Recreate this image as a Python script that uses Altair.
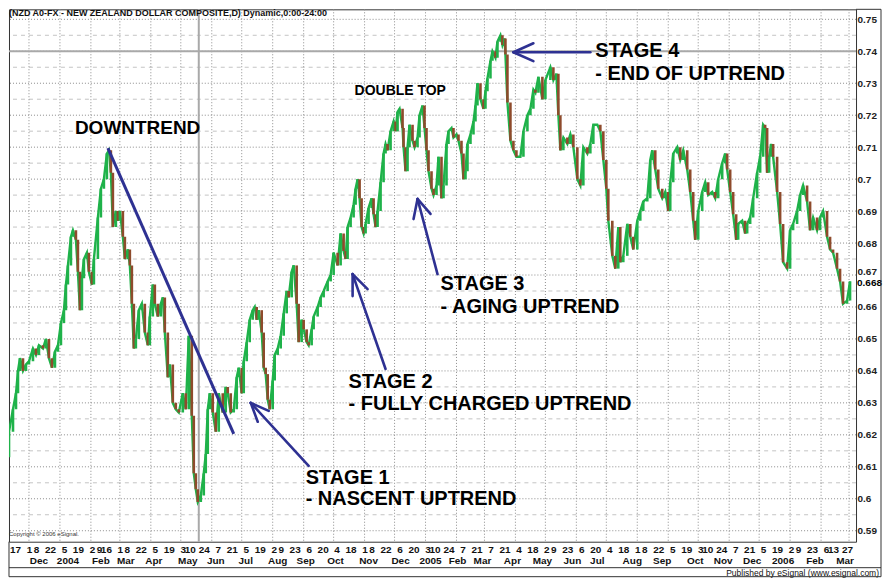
import altair as alt
import pandas as pd

W, H = 848, 533

# ---------------- price data (days since 2003-11-03, close) ----------------
days_a = [6, 8, 12, 15, 17, 19, 22, 25, 28, 32, 35, 38, 42, 45, 48, 51, 54, 57, 60, 63,
          65, 67, 70, 72, 75, 77, 79, 81, 83, 86, 88, 91, 93, 97, 100, 103, 106, 108, 110, 112,
          115, 117, 119, 122, 124, 127, 129, 131, 133, 135, 138, 141, 144, 147, 149, 152, 154, 157, 160, 162,
          164, 167, 169, 172]
close_a = [.613, .621, .628, .633, .640, .644, .640, .642, .643, .647, .645, .648, .647, .650, .644, .641, .646, .648, .655, .659,
           .667, .673, .682, .684, .681, .671, .659, .669, .675, .677, .671, .667, .675, .688, .697, .700, .708, .709, .702, .685,
           .690, .687, .690, .682, .675, .678, .673, .661, .647, .650, .659, .661, .652, .648, .657, .667, .661, .657, .661, .663,
           .652, .638, .642, .630]

days_b = [175, 178, 182, 185, 188, 191, 193, 195, 197, 200, 203, 205, 207, 209, 212, 215, 218, 222, 225, 227,
          230, 233, 236, 238, 241, 243, 246, 249, 252, 254, 256, 258, 261, 263, 265, 267, 269, 272, 274, 277,
          280, 283, 286, 288, 291, 293, 296, 298, 301, 303, 306, 308, 311, 313, 317, 320, 323, 327, 330, 333,
          337, 340]
close_b = [.628, .627, .633, .628, .651, .626, .608, .603, .599, .601, .608, .614, .628, .633, .627, .621, .633, .627, .635, .633,
           .627, .628, .638, .641, .633, .643, .649, .656, .659, .660, .656, .659, .652, .641, .639, .631, .628, .637, .645, .647,
           .651, .658, .665, .663, .671, .673, .661, .649, .656, .653, .649, .648, .653, .657, .660, .663, .665, .668, .670, .677,
           .673, .683]

days_c = [343, 345, 347, 350, 353, 355, 357, 359, 361, 363, 365, 368, 371, 373, 375, 377, 380, 383, 385, 387,
          390, 393, 395, 397, 399, 402, 403, 405, 407, 409, 412, 414, 417, 419, 422, 424, 426, 428, 431, 433,
          436, 438, 441, 443, 446, 448, 451, 453, 456, 458, 461, 463, 465, 467, 470, 473, 475, 477, 480, 483,
          485, 487]
close_c = [.6775, .675, .685, .688, .692, .697, .700, .694, .685, .683, .686, .691, .694, .689, .685, .690, .699, .708, .711, .709,
           .715, .718, .715, .721, .722, .716, .710, .7025, .710, .717, .712, .710, .713, .720, .723, .716, .709, .7025, .697, .695,
           .698, .707, .694, .698, .711, .715, .716, .713, .714, .712, .708, .700, .7025, .711, .714, .718, .723, .730, .725, .722,
           .7275, .7315]

days_d = [490, 492, 495, 497, 500, 502, 504, 505, 507, 510, 513, 516, 520, 523, 527, 530, 533, 535, 538, 542,
          545, 550, 553, 556, 558, 560, 563, 567, 570, 573, 577, 580, 583, 587, 590, 593, 597, 600, 603, 606,
          608, 612, 615, 618, 620, 623, 627, 630, 633, 637, 640, 643, 647, 650, 652, 655, 658, 662, 665, 668,
          670, 673, 677, 680, 683]
close_d = [.737, .740, .738, .743, .745, .742, .744, .739, .724, .712, .709, .707, .707, .715, .720, .722, .728, .727, .732, .725,
           .731, .735, .731, .733, .720, .709, .713, .711, .714, .710, .700, .698, .710, .708, .711, .717, .717, .715, .706, .697,
           .687, .676, .672, .685, .674, .676, .686, .682, .678, .687, .690, .693, .694, .706, .709, .703, .697, .694, .696, .690,
           .699, .708, .710, .706, .709]

days_e = [687, 690, 693, 695, 698, 702, 705, 708, 712, 715, 718, 722, 725, 727, 730, 733, 736, 738, 742, 745,
          747, 750, 753, 757, 760, 763, 765, 767, 769, 771, 773, 777, 780, 783, 787, 790, 793, 797, 800, 803,
          807, 810, 813, 817, 820, 823, 827, 830, 833, 837, 840, 843, 847, 850]
close_e = [.703, .696, .687, .681, .690, .696, .699, .695, .696, .694, .700, .705, .708, .703, .696, .689, .681, .686, .687, .683,
           .686, .688, .694, .702, .707, .717, .716, .702, .707, .711, .707, .696, .686, .674, .672, .684, .686, .690, .695, .698,
           .693, .684, .688, .684, .688, .690, .682, .678, .677, .672, .668, .661, .662, .668]

# ---------------- axis / grid data ----------------
day_ticks = ["2003-11-17", "2003-12-01", "2003-12-08", "2003-12-22", "2004-01-05", "2004-01-19", "2004-02-02",
             "2004-02-09", "2004-02-16", "2004-03-01", "2004-03-08", "2004-03-22", "2004-04-05", "2004-04-19",
             "2004-05-03", "2004-05-10", "2004-05-24", "2004-06-07", "2004-06-21", "2004-07-05", "2004-07-19",
             "2004-08-02", "2004-08-09", "2004-08-23", "2004-09-06", "2004-09-20", "2004-10-04", "2004-10-18",
             "2004-11-01", "2004-11-08", "2004-11-22", "2004-12-06", "2004-12-20", "2005-01-03", "2005-01-10",
             "2005-01-24", "2005-02-07", "2005-02-21", "2005-03-07", "2005-03-21", "2005-04-04", "2005-04-18",
             "2005-05-02", "2005-05-09", "2005-05-23", "2005-06-06", "2005-06-20", "2005-07-04", "2005-07-18",
             "2005-08-01", "2005-08-08", "2005-08-22", "2005-09-05", "2005-09-19", "2005-10-03", "2005-10-10",
             "2005-10-24", "2005-11-07", "2005-11-21", "2005-12-05", "2005-12-19", "2006-01-02", "2006-01-09",
             "2006-01-23", "2006-02-06", "2006-02-13", "2006-02-27"]

month_labels = ["Dec", "2004", "Feb", "Mar", "Apr", "May", "Jun", "Jul", "Aug", "Sep", "Oct", "Nov", "Dec", "2005",
                "Feb", "Mar", "Apr", "May", "Jun", "Jul", "Aug", "Sep", "Oct", "Nov", "Dec", "2006", "Feb", "Mar"]
month_label_dates = ["2003-12-11", "2004-01-09", "2004-02-11", "2004-03-07", "2004-04-04", "2004-05-08", "2004-06-05",
                     "2004-07-05", "2004-08-06", "2004-09-03", "2004-10-03", "2004-11-05", "2004-12-07", "2005-01-06",
                     "2005-02-02", "2005-02-27", "2005-03-29", "2005-04-28", "2005-05-28", "2005-06-22", "2005-07-27",
                     "2005-08-26", "2005-09-28", "2005-10-26", "2005-11-24", "2005-12-25", "2006-01-26", "2006-02-25"]

month_starts = ["2003-12-01", "2004-01-01", "2004-02-01", "2004-03-01", "2004-04-01", "2004-05-01", "2004-06-01",
                "2004-07-01", "2004-08-01", "2004-09-01", "2004-10-01", "2004-11-01", "2004-12-01", "2005-01-01",
                "2005-02-01", "2005-03-01", "2005-04-01", "2005-05-01", "2005-06-01", "2005-07-01", "2005-08-01",
                "2005-09-01", "2005-10-01", "2005-11-01", "2005-12-01", "2006-01-01", "2006-02-01", "2006-03-01"]

y_ticks = [0.59, 0.60, 0.61, 0.62, 0.63, 0.64, 0.65, 0.66, 0.67, 0.68, 0.69, 0.70, 0.71, 0.72, 0.73, 0.74, 0.75]
y_half = [0.595, 0.605, 0.615, 0.625, 0.635, 0.645, 0.655, 0.665, 0.675, 0.685, 0.695, 0.705, 0.715, 0.725,
          0.735, 0.745]

cross_price = [0.74]
cross_date = ["2004-05-19"]

# ---------------- annotations ----------------
big_text = ["STAGE 4", "- END OF UPTREND", "STAGE 3", "- AGING UPTREND", "STAGE 2",
            "- FULLY CHARGED UPTREND", "STAGE 1", "- NASCENT UPTREND"]
big_date = ["2005-06-20", "2005-06-20", "2005-01-16", "2005-01-16", "2004-10-16", "2004-10-16",
            "2004-09-03", "2004-09-03"]
big_price = [0.7400, 0.7328, 0.6672, 0.6600, 0.6366, 0.6297, 0.6066, 0.6000]

down_text = ["DOWNTREND"]
down_date = ["2004-01-16"]
down_price = [0.7159]

dtop_text = ["DOUBLE TOP"]
dtop_date = ["2004-10-22"]
dtop_price = [0.7275]

trend_x1, trend_y1, trend_x2, trend_y2 = ["2004-02-18"], [0.7097], ["2004-06-23"], [0.6203]

arrow_x1 = ["2004-09-06", "2004-07-10", "2004-07-10",
            "2004-11-22", "2004-10-20", "2004-10-20",
            "2005-01-13", "2004-12-24", "2004-12-24",
            "2005-06-15", "2005-03-30", "2005-03-30"]
arrow_y1 = [0.6103, 0.6300, 0.6300,
            0.6406, 0.6703, 0.6703,
            0.6703, 0.6938, 0.6938,
            0.7397, 0.7397, 0.7397]
arrow_x2 = ["2004-07-10", "2004-07-17", "2004-07-28",
            "2004-10-20", "2004-10-20", "2004-11-04",
            "2004-12-24", "2004-12-20", "2005-01-06",
            "2005-03-30", "2005-04-19", "2005-04-19"]
arrow_y2 = [0.6300, 0.6241, 0.6275,
            0.6703, 0.6634, 0.6656,
            0.6938, 0.6875, 0.6891,
            0.7397, 0.7425, 0.7369]

TITLE = "(NZD A0-FX - NEW ZEALAND DOLLAR COMPOSITE,D) Dynamic,0:00-24:00"
COPY = "Copyright \u00a9 2006 eSignal."
PUB = "Published by eSignal (www.esignal.com)"

# ---------------- build ----------------
FONT = "Liberation Sans"
GREEN = "#1fb24a"
BROWN = "#8e4b2c"
BLUE = "#2e3192"


def ms(s):
    return int(pd.Timestamp(s, tz="UTC").timestamp() * 1000)


base = pd.Timestamp("2003-11-03")
days = days_a + days_b + days_c + days_d + days_e
close = close_a + close_b + close_c + close_d + close_e
assert len(days) == len(close)
dates = [(base + pd.Timedelta(days=int(d))).strftime("%Y-%m-%d") for d in days]
opn = [close[0]] + close[:-1]
direction = ["up" if c >= o else "down" for o, c in zip(opn, close)]
cdf = pd.DataFrame({"t": dates, "open": opn, "close": close, "dir": direction})

xs = alt.Scale(type="utc", domain=[ms("2003-11-11"), ms("2006-03-08")], nice=False)
ys = alt.Scale(domain=[0.5865625, 0.753125], nice=False, zero=False)

XAX = alt.Axis(values=[ms(d) for d in day_ticks], labelExpr="utcdate(datum.value)", title=None,
               grid=False, domain=False, ticks=False, labelPadding=3,
               labelFont=FONT, labelFontWeight="bold", labelFontSize=10,
               labelColor="#111111", labelOverlap=False, labelFlush=False, labelBound=False)
YAX = alt.Axis(orient="right", values=y_ticks, format=".2~f", title=None, grid=False,
               domain=False, ticks=False, labelPadding=1, labelFont=FONT,
               labelFontWeight="bold", labelFontSize=10, labelColor="#222222",
               labelOffset=alt.expr("abs(datum.value - 0.67) < 0.0001 ? -4 : 0"),
               labelOverlap=False, labelFlush=False, labelBound=False)


def X(field):
    return alt.X(field, scale=xs, axis=XAX, title=None)


def Y(field):
    return alt.Y(field, scale=ys, axis=YAX, title=None)


one = pd.DataFrame({"k": [0]})

grid_major = alt.Chart(pd.DataFrame({"p": y_ticks})).mark_rule(
    color="#8c8c8c", strokeDash=[1, 2], strokeWidth=1).encode(y=Y("p:Q"))
grid_minor = alt.Chart(pd.DataFrame({"p": y_half})).mark_rule(
    color="#c4c4c4", strokeDash=[4, 4], strokeWidth=1).encode(y=Y("p:Q"))
grid_v = alt.Chart(pd.DataFrame({"t": month_starts})).mark_rule(
    color="#8c8c8c", strokeDash=[1, 2], strokeWidth=1).encode(x=X("t:T"))

cross_h = alt.Chart(pd.DataFrame({"p": cross_price})).mark_rule(
    color="#a9a9a9", strokeWidth=2).encode(y=Y("p:Q"))
cross_v = alt.Chart(pd.DataFrame({"t": cross_date})).mark_rule(
    color="#a9a9a9", strokeWidth=2).encode(x=X("t:T"))

price_line = alt.Chart(cdf).mark_line(color=GREEN, strokeWidth=2.4, clip=True).encode(
    x=X("t:T"), y=Y("close:Q"))

candles = alt.Chart(cdf).mark_rule(strokeWidth=2.6, clip=True).encode(
    x=X("t:T"),
    y=Y("open:Q"),
    y2="close:Q",
    color=alt.Color("dir:N", scale=alt.Scale(domain=["up", "down"], range=[GREEN, BROWN]),
                    legend=None),
)

trend = alt.Chart(pd.DataFrame({"x1": trend_x1, "y1": trend_y1, "x2": trend_x2, "y2": trend_y2})).mark_rule(
    color=BLUE, strokeWidth=3).encode(x=X("x1:T"), y=Y("y1:Q"), x2="x2:T", y2="y2:Q")

arrows = alt.Chart(pd.DataFrame({"x1": arrow_x1, "y1": arrow_y1, "x2": arrow_x2, "y2": arrow_y2})).mark_rule(
    color=BLUE, strokeWidth=2.6, strokeCap="round").encode(x=X("x1:T"), y=Y("y1:Q"), x2="x2:T", y2="y2:Q")

big = alt.Chart(pd.DataFrame({"t": big_date, "p": big_price, "s": big_text})).mark_text(
    align="left", baseline="middle", font=FONT, fontWeight="bold", fontSize=20, color="#000000").encode(
    x=X("t:T"), y=Y("p:Q"), text="s:N")

down = alt.Chart(pd.DataFrame({"t": down_date, "p": down_price, "s": down_text})).mark_text(
    align="left", baseline="middle", font=FONT, fontWeight="bold", fontSize=19, color="#000000").encode(
    x=X("t:T"), y=Y("p:Q"), text="s:N")

dtop = alt.Chart(pd.DataFrame({"t": dtop_date, "p": dtop_price, "s": dtop_text})).mark_text(
    align="left", baseline="middle", font=FONT, fontWeight="bold", fontSize=14, color="#000000").encode(
    x=X("t:T"), y=Y("p:Q"), text="s:N")

months = alt.Chart(pd.DataFrame({"t": month_label_dates, "s": month_labels})).mark_text(
    align="center", baseline="middle", font=FONT, fontWeight="bold", fontSize=10, color="#111111").encode(
    x=X("t:T"), y=alt.value(H + 19), text="s:N")

last_df = pd.DataFrame({"p": [close[-1]], "s": [f"{close[-1]:.3f}"]})
last_df["hi"] = last_df["p"] - 0.0002
last_df["lo"] = last_df["p"] - 0.0036
last_bg = alt.Chart(last_df).mark_rect(color="white").encode(
    y=Y("hi:Q"), y2="lo:Q", x=alt.value(W + 1), x2=alt.value(W + 25))
last_txt = alt.Chart(last_df).mark_text(
    align="left", baseline="middle", dy=2, font=FONT, fontWeight="bold", fontSize=10, color="#000000").encode(
    x=alt.value(W + 1), y=Y("p:Q"), text="s:N")

title_txt = alt.Chart(pd.DataFrame({"s": [TITLE]})).mark_text(
    align="left", baseline="middle", font=FONT, fontWeight="bold", fontSize=9, color="#111111").encode(
    x=alt.value(0), y=alt.value(4), text="s:N")
copy_txt = alt.Chart(pd.DataFrame({"s": [COPY]})).mark_text(
    align="left", baseline="middle", font=FONT, fontSize=6, color="#333333").encode(
    x=alt.value(0), y=alt.value(H - 8), text="s:N")
pub_txt = alt.Chart(pd.DataFrame({"s": [PUB]})).mark_text(
    align="right", baseline="middle", font=FONT, fontSize=8.5, color="#111111").encode(
    x=alt.value(W + 23), y=alt.value(H + 31), text="s:N")


def frame_line(x1, x2, y1, y2):
    return alt.Chart(one).mark_rule(color="#333333", strokeWidth=1).encode(
        x=alt.value(x1), x2=alt.value(x2), y=alt.value(y1), y2=alt.value(y2))


frames = [
    frame_line(0, 0, H, H + 35),
    frame_line(0, W + 25, H + 26, H + 26),
    frame_line(0, W + 25, H + 35, H + 35),
    frame_line(W, W + 25, 0, 0),
    frame_line(W + 25, W + 25, 0, H + 35),
]

chart = alt.layer(
    grid_minor, grid_major, grid_v, cross_h, cross_v, price_line, candles, trend, arrows,
    big, down, dtop, months, last_bg, last_txt, title_txt, copy_txt, pub_txt, *frames
).properties(width=W, height=H, padding=0, background="white").configure_view(
    stroke="#333333", strokeWidth=1)

chart.save("out.html", embed_options={"renderer": "svg", "actions": False})
